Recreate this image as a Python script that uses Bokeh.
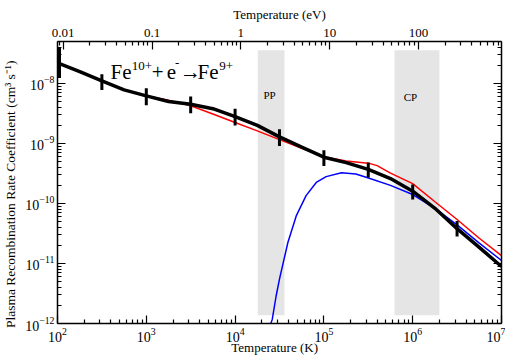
from bokeh.plotting import figure
from bokeh.models import (Range1d, LogScale, LogAxis, FixedTicker, CustomJSTickFormatter,
                          Label, LogTickFormatter)
from bokeh.embed import file_html
from bokeh.resources import INLINE

# ---------------- data ----------------
T_total = [1e2, 1.78e2, 3.16e2, 5.62e2, 1e3, 1.78e3, 3.16e3, 5.62e3, 1e4, 1.78e4, 3.16e4,
           5.62e4, 1e5, 1.78e5, 3.16e5, 5.62e5, 1e6, 1.78e6, 3.16e6, 5.62e6, 1e7]
rate_total = [2.2e-8, 1.58e-8, 1.10e-8, 7.8e-9, 6.2e-9, 5.0e-9, 4.5e-9, 3.8e-9, 2.8e-9, 2.0e-9,
              1.29e-9, 8.7e-10, 5.9e-10, 4.8e-10, 3.7e-10, 2.6e-10, 1.6e-10, 8.3e-11, 3.8e-11,
              1.86e-11, 8.9e-12]

T_red = [1e3, 1.78e3, 3.16e3, 5.62e3, 1e4, 1.78e4, 3.16e4, 5.62e4, 1e5, 1.78e5, 3.16e5, 3.98e5,
         5.62e5, 1e6, 1.78e6, 3.16e6, 5.62e6, 1e7]
rate_red = [6.2e-9, 5.25e-9, 4.24e-9, 3.1e-9, 2.24e-9, 1.62e-9, 1.16e-9, 8.3e-10, 6.0e-10, 5.1e-10,
            4.7e-10, 4.27e-10, 3.2e-10, 2.14e-10, 1.07e-10, 5.4e-11, 2.63e-11, 1.35e-11]

T_blue = [2.45e4, 2.62e4, 2.9e4, 3.16e4, 3.93e4, 4.88e4, 6.3e4, 8.2e4, 1.06e5, 1.58e5, 2.29e5,
          3.24e5, 5.62e5, 1e6, 1.78e6, 3.16e6, 5.62e6, 1e7]
rate_blue = [8.9e-13, 1.17e-12, 2.9e-12, 5.5e-12, 2.24e-11, 6.2e-11, 1.35e-10, 2.24e-10, 2.8e-10,
             3.24e-10, 3.1e-10, 2.63e-10, 2.0e-10, 1.41e-10, 8.3e-11, 4.4e-11, 2.19e-11, 1.12e-11]

T_err = [1e2, 3.16e2, 1e3, 3.16e3, 1e4, 3.16e4, 1e5, 3.16e5, 1e6, 3.16e6]
rate_err = [2.2e-8, 1.05e-8, 6.0e-9, 4.4e-9, 2.75e-9, 1.25e-9, 5.7e-10, 3.6e-10, 1.55e-10, 3.8e-11]
err_dex = [0.25, 0.13, 0.14, 0.14, 0.14, 0.14, 0.13, 0.125, 0.125, 0.13]

bands_lo_T = [1.8e4, 6.24e5]
bands_hi_T = [3.6e4, 2.0e6]
band_bottom = 1.375e-12
band_top = 3.59e-8
band_names = ["PP", "CP"]
band_label_T = [2.44e4, 9.44e5]
band_label_rate = [6.4e-9, 6.0e-9]

x_title = "Temperature (K)"
x2_title = "Temperature (eV)"
y_title = "Plasma Recombination Rate Coefficient (cm\u00b3 s\u207b\u00b9)"

EV_PER_K = 1.0 / 11604.5
FONT = "'Liberation Serif', 'Times New Roman', serif"
NBSP = "\u00a0"

# ---------------- figure ----------------
p = figure(frame_width=444, frame_height=282, x_axis_type="log", y_axis_type="log",
           x_range=Range1d(1e2, 1e7), y_range=Range1d(1e-12, 5e-8),
           output_backend="svg", toolbar_location=None,
           min_border_left=56, min_border_right=4, min_border_top=41, min_border_bottom=31)
p.xgrid.visible = False
p.ygrid.visible = False
p.outline_line_color = None
p.background_fill_color = "white"
p.border_fill_color = "white"

# bands
p.quad(left=bands_lo_T, right=bands_hi_T, bottom=[band_bottom] * 2, top=[band_top] * 2,
       fill_color="#e5e5e5", line_color=None)
for name, bx, by in zip(band_names, band_label_T, band_label_rate):
    p.add_layout(Label(x=bx, y=by, text=name, text_font=FONT, text_font_size="11px",
                       text_align="center", text_baseline="middle", text_color="black"))

# curves
p.line(T_blue, rate_blue, line_color="#0000ff", line_width=1.5)
p.line(T_red, rate_red, line_color="#ff0000", line_width=1.5)
p.line(T_total, rate_total, line_color="black", line_width=3.5)

lo = [r / 10 ** d for r, d in zip(rate_err, err_dex)]
hi = [r * 10 ** d for r, d in zip(rate_err, err_dex)]
p.segment(x0=T_err[1:], x1=T_err[1:], y0=lo[1:], y1=hi[1:], line_color="black", line_width=3)
p.segment(x0=T_err[:1], x1=T_err[:1], y0=lo[:1], y1=hi[:1], line_color="black", line_width=7)

# title text pieces: Fe^{10+} + e^- -> Fe^{9+}
base_rate = 1.525e-8
sup_rate = 1.96e-8
pieces = [
    ("Fe", 395, base_rate, "21px"),
    ("10+", 687, sup_rate, "13px"),
    ("+", 1150, base_rate, "21px"),
    ("e", 1700, base_rate, "21px"),
    ("-", 2110, 2.18e-8, "13px"),
    ("\u2192", 2400, base_rate, "21px"),
    ("Fe", 3773, base_rate, "21px"),
    ("9+", 6650, sup_rate, "13px"),
]
for txt, tx, ty, fs in pieces:
    p.add_layout(Label(x=tx, y=ty, text=txt, text_font=FONT, text_font_size=fs,
                       text_align="left", text_baseline="alphabetic", text_color="black"))

# ---------------- axes ----------------
def log_ticks(lo_e, hi_e):
    return [10.0 ** e for e in range(lo_e, hi_e + 1)]

def log_minor(lo_e, hi_e, vmin, vmax):
    out = []
    for e in range(lo_e, hi_e + 1):
        for k in range(2, 10):
            v = k * 10.0 ** e
            if vmin <= v <= vmax:
                out.append(v)
    return out

def style_axis(ax, label_size="13px"):
    ax.axis_line_width = 1.5
    ax.axis_line_color = "black"
    ax.major_tick_in = 8
    ax.major_tick_out = 0
    ax.minor_tick_in = 4
    ax.minor_tick_out = 0
    ax.major_tick_line_width = 1.2
    ax.minor_tick_line_width = 1.2
    ax.major_label_text_font = FONT
    ax.major_label_text_font_size = label_size
    ax.major_label_text_color = "black"
    ax.axis_label_text_font = FONT
    ax.axis_label_text_font_style = "normal"
    ax.axis_label_text_color = "black"

xb = p.xaxis[0]
xb.ticker = FixedTicker(ticks=log_ticks(2, 7), minor_ticks=log_minor(2, 6, 1e2, 1e7))
xb.formatter = LogTickFormatter()
style_axis(xb, "14px")
xb.axis_label = x_title + NBSP * 3
xb.axis_label_text_font_size = "13px"
xb.major_label_standoff = 4
xb.axis_label_standoff = -5

yl = p.yaxis[0]
yl.ticker = FixedTicker(ticks=log_ticks(-12, -8), minor_ticks=log_minor(-12, -8, 1e-12, 5e-8))
yl.formatter = LogTickFormatter()
style_axis(yl, "14px")
yl.axis_label = y_title + NBSP * 7
yl.axis_label_text_font_size = "13.5px"
yl.major_label_standoff = 3
yl.axis_label_standoff = 4

p.extra_x_ranges = {"ev": Range1d(1e2 * EV_PER_K, 1e7 * EV_PER_K)}
p.extra_x_scales = {"ev": LogScale()}
xt = LogAxis(x_range_name="ev",
             ticker=FixedTicker(ticks=log_ticks(-2, 2),
                                minor_ticks=log_minor(-3, 2, 1e2 * EV_PER_K, 1e7 * EV_PER_K)),
             formatter=CustomJSTickFormatter(code="return tick.toString()"))
style_axis(xt, "13px")
xt.axis_label = x2_title
xt.axis_label_text_font_size = "13px"
xt.major_label_standoff = 5
xt.axis_label_standoff = 4
p.add_layout(xt, "above")

yr = LogAxis(ticker=FixedTicker(ticks=log_ticks(-12, -8),
                                minor_ticks=log_minor(-12, -8, 1e-12, 5e-8)),
             formatter=CustomJSTickFormatter(code="return ''"))
style_axis(yr, "0px")
yr.major_label_standoff = 0
p.add_layout(yr, "right")

open("out.html", "w").write(file_html(p, INLINE))
